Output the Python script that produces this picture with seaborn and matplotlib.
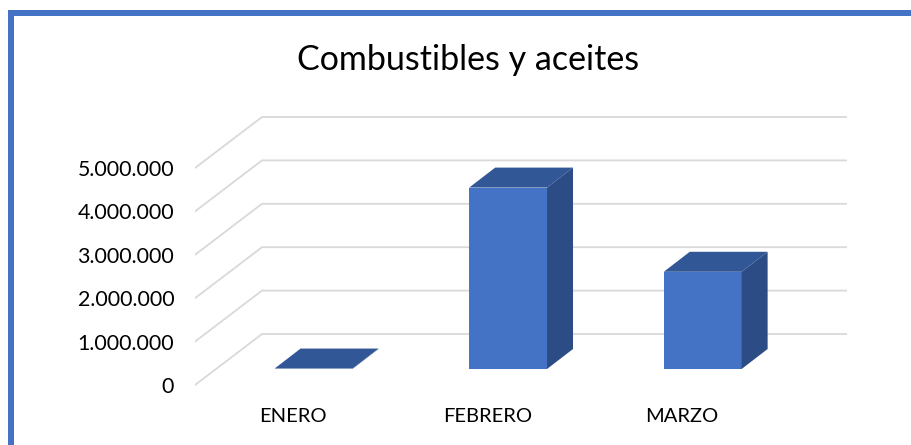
import matplotlib
matplotlib.use('Agg')
import matplotlib.pyplot as plt
from matplotlib.patches import Rectangle
import numpy as np
import pandas as pd
import seaborn as sns

meses = ['ENERO', 'FEBRERO', 'MARZO']
valores = [10000, 4180000, 2240000]
ticks = [0, 1000000, 2000000, 3000000, 4000000, 5000000]
tick_labels = ['0', '1.000.000', '2.000.000', '3.000.000', '4.000.000', '5.000.000']

W, H = 912, 445
PX_X = 194.6    # px per category
PX_Y = 43.4 / 1000000    # px per unit of value

sns.set_theme(style='white')
plt.rcParams['font.family'] = ['Lato', 'DejaVu Sans']

fig = plt.figure(figsize=(W / 100, H / 100), dpi=100)
ax = fig.add_axes([195 / W, 1 - 390 / H, (847 - 195) / W, 280 / H])

df = pd.DataFrame({'mes': meses, 'valor': valores})
sns.barplot(data=df, x='mes', y='valor', color='#4472C4', saturation=1, width=0.4,
            linewidth=0, ax=ax, zorder=2)

# pixel window of the axes -> data limits, bars stand on y=369
ax.set_xlim((195 - 313.5) / PX_X, (847 - 313.5) / PX_X)
ax.set_ylim((369 - 390) / PX_Y, (369 - 110) / PX_Y)

# fake 3D depth
dx = 26 / PX_X
dy = 20 / PX_Y
front_y = -16 / PX_Y
back_y = 35 / PX_Y
xback = -51.5 / PX_X

for t in ticks:
    ax.plot([ax.get_xlim()[0], xback, ax.get_xlim()[1]],
            [t + front_y, t + back_y, t + back_y],
            color='#D9D9D9', lw=1.3, zorder=1, solid_joinstyle='miter')

half = 0.2
for i, v in enumerate(valores):
    ax.fill([i - half, i + half, i + half + dx, i - half + dx],
            [v, v, v + dy, v + dy], color='#325797', lw=0, zorder=3)
    ax.fill([i + half, i + half + dx, i + half + dx, i + half],
            [0, dy, v + dy, v], color='#2B4C85', lw=0, zorder=3)

ax.set_yticks([t + front_y for t in ticks])
ax.set_yticklabels(tick_labels, fontsize=15.4, color='black')
for lab in ax.get_yticklabels():
    lab.set_y(lab.get_position()[1])
ax.set_xticks(np.arange(3) - 20.5 / PX_X)
ax.set_xticklabels(meses, fontsize=14.5, color='black')
ax.tick_params(axis='both', length=0)
ax.tick_params(axis='y', pad=15)
ax.tick_params(axis='x', pad=13)
ax.set_xlabel('')
ax.set_ylabel('')
sns.despine(ax=ax, left=True, bottom=True)
ax.patch.set_alpha(0)

# chart frame, only top and left are in the crop
fig.add_artist(Rectangle((8 / W, 0), 6 / W, 1 - 10 / H, transform=fig.transFigure, color='#4472C4', lw=0))
fig.add_artist(Rectangle((8 / W, 1 - 16 / H), 1 - 8 / W, 6 / H, transform=fig.transFigure, color='#4472C4', lw=0))

fig.text(468.5 / W, 1 - 60 / H, 'Combustibles y aceites', fontsize=24.5, color='black', ha='center', va='center')

fig.savefig('out.png', dpi=100)
